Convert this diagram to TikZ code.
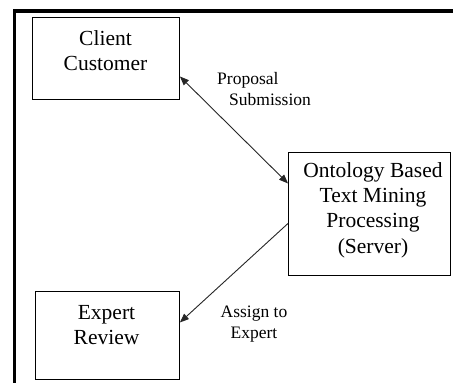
\documentclass[tikz,border=0pt]{standalone}
\usepackage{fontspec}
\setmainfont{Liberation Serif}
\usetikzlibrary{arrows.meta}
\begin{document}
\begin{tikzpicture}[x=1pt,y=1pt,
  boxnode/.style={draw=black,line width=0.9pt,inner sep=0pt,anchor=north west},
  boxtext/.style={inner sep=0pt,align=center,font=\fontsize{21.5}{25.3}\selectfont},
  lbl/.style={inner sep=0pt,font=\fontsize{17.5}{21}\selectfont},
  conn/.style={draw=black!85,line width=0.9pt},
  tip/.style={-{Triangle[length=9pt,width=7pt]}}
]
\useasboundingbox (0,0) rectangle (453,-383);
\fill[white] (0,0) rectangle (453,-383);
% outer frame (top and left edges visible)
\draw[line width=3.6pt] (453,-11) -- (14.5,-11) -- (14.5,-383);
% boxes
\node[boxnode,minimum width=147pt,minimum height=82pt] (client) at (32,-17) {};
\node[boxnode,minimum width=144pt,minimum height=88pt] (expert) at (35,-291) {};
\node[boxnode,minimum width=162pt,minimum height=123pt] (server) at (288,-152) {};
% box texts
\node[boxtext] (clienttxt) at (105.5,-50.5) {Client\\Customer};
\node[boxtext] (experttxt) at (106.5,-325) {Expert\\Review};
\node[boxtext] (servertxt) at (373,-210) {Ontology Based\\Text Mining\\Processing\\(Server)};
% labels
\node[lbl,anchor=west,align=left] (proposal) at (217,-89.5) {Proposal\\\hspace{12pt}Submission};
\node[lbl,align=center] (assign) at (254,-324.5) {Assign to\\Expert};
% connectors
\draw[conn,{Triangle[length=9pt,width=7pt]}-{Triangle[length=9pt,width=7pt]}] ([yshift=-18pt]client.east) -- ([yshift=30.5pt]server.west);
\draw[conn,tip] ([yshift=-9.5pt]server.west) -- ([yshift=13pt]expert.east);
\end{tikzpicture}
\end{document}
